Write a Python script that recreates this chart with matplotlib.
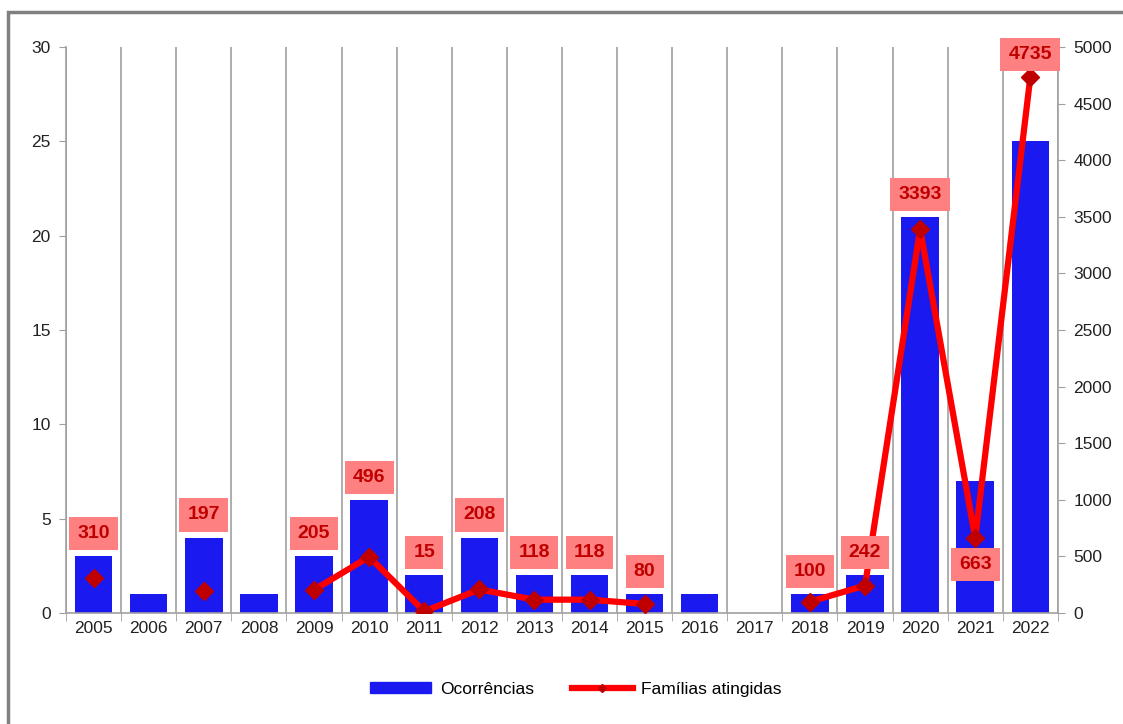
import numpy as np
import matplotlib
matplotlib.use("Agg")
import matplotlib.pyplot as plt
from matplotlib.lines import Line2D
from matplotlib.patches import Patch, Rectangle

plt.rcParams['font.family'] = ['Liberation Sans', 'DejaVu Sans']

years = [str(y) for y in range(2005, 2023)]
ocorrencias = [3, 1, 4, 1, 3, 6, 2, 4, 2, 2, 1, 1, 0, 1, 2, 21, 7, 25]
familias = [310, np.nan, 197, np.nan, 205, 496, 15, 208, 118, 118, 80,
            np.nan, np.nan, 100, 242, 3393, 663, 4735]

BAR = "#1a1af0"
LINE = "#ff0000"
MARK = "#c00000"
BOX = "#ff8080"
GRID = "#a0a0a0"

fig = plt.figure(figsize=(11.23, 7.24), dpi=100)
# outer chart border
fig.patches.append(Rectangle((0.007, -0.1), 1.2, 1.083,
                             transform=fig.transFigure, fill=False,
                             edgecolor="#808080", linewidth=2.5))
ax = fig.add_axes([0.0588, 0.1533, 0.8832, 0.7817])
ax2 = ax.twinx()

x = np.arange(len(years))
ax.bar(x, ocorrencias, width=0.68, color=BAR, zorder=2)
ax.set_xlim(-0.5, len(years) - 0.5)
ax.set_ylim(0, 30)
ax.set_yticks(range(0, 31, 5))

# vertical separators between categories
for b in np.arange(-0.5, len(years) + 0.5, 1):
    ax.axvline(b, color=GRID, lw=1.2, zorder=1)

ax.set_xticks(x)
ax.set_xticklabels(years)
ax.set_xticks(np.arange(-0.5, len(years), 1), minor=True)
ax.tick_params(axis='x', which='major', length=0, labelsize=12.5, colors="#222222", pad=6)
ax.tick_params(axis='x', which='minor', length=6, color=GRID)
ax.tick_params(axis='y', length=5, color=GRID, labelsize=12.5, labelcolor="#222222", pad=6)

ax.spines["top"].set_visible(False)
ax.spines["right"].set_visible(False)
for s in ["left", "bottom"]:
    ax.spines[s].set_color(GRID)
    ax.spines[s].set_linewidth(1.2)
ax2.spines["top"].set_visible(False)
ax2.spines["left"].set_visible(False)
ax2.spines["bottom"].set_visible(False)
ax2.spines["right"].set_color(GRID)
ax2.spines["right"].set_linewidth(1.2)

ax2.plot(x, familias, color=LINE, lw=4.5, zorder=3, solid_capstyle="round")
ax2.plot(x, familias, ls="none", marker="D", ms=9, color=MARK, zorder=4)
ax2.set_ylim(0, 5000)
ax2.set_yticks(range(0, 5001, 500))
ax2.tick_params(axis='y', length=5, color=GRID, labelsize=12.5, labelcolor="#222222", pad=6)

# data labels, placed above the taller of bar / point
scale = 5000 / 30
for i, v in enumerate(familias):
    if np.isnan(v):
        continue
    if years[i] == "2021":
        ly = v - 1.4 * scale
    else:
        ly = max(ocorrencias[i] * scale, v) + 1.2 * scale
    ax2.text(i, ly, f"{int(v)}", ha="center", va="center", fontsize=14,
             fontweight="bold", color=MARK, zorder=6,
             bbox=dict(boxstyle="square,pad=0.42", fc=BOX, ec="none"))

handles = [Patch(color=BAR),
           Line2D([], [], color=LINE, lw=4.5, marker="D", ms=4, mfc=MARK, mec=MARK)]
fig.legend(handles, ["Ocorrências", "Famílias atingidas"], loc="center",
           bbox_to_anchor=(0.513, 0.048), ncol=2, frameon=False, fontsize=12.5,
           handlelength=3.5, columnspacing=2.2, handleheight=0.6, handletextpad=0.5)

fig.savefig("out.png", dpi=100)
